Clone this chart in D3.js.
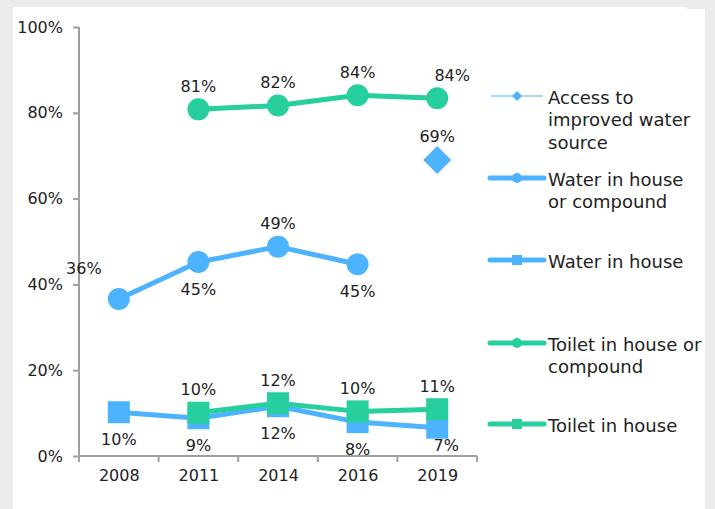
<!DOCTYPE html>
<html>
<head>
<meta charset="utf-8">
<script src="https://cdn.jsdelivr.net/npm/d3@7"></script>
<style>
  html, body { margin: 0; padding: 0; background: #ececec; }
  svg { display: block; }
  text { font-family: "DejaVu Sans", Lato, sans-serif; fill: #222; }
</style>
</head>
<body>
<svg id="chart" width="715" height="509"></svg>
<script>
// ---- data ----
const years = ["2008", "2011", "2014", "2016", "2019"];
const yTicks = [0, 0.2, 0.4, 0.6, 0.8, 1.0];
const seriesNames = [
  "Access to improved water source",
  "Water in house or compound",
  "Water in house",
  "Toilet in house or compound",
  "Toilet in house"
];
const accessImprovedWater   = [null, null, null, null, 0.69];
const waterHouseOrCompound  = [0.366, 0.452, 0.488, 0.447, null];
const waterInHouse          = [0.102, 0.088, 0.116, 0.079, 0.066];
const toiletHouseOrCompound = [null, 0.808, 0.817, 0.841, 0.834];
const toiletInHouse         = [null, 0.101, 0.123, 0.104, 0.109];
const labelsAccess   = [null, null, null, null, "69%"];
const labelsWaterHC  = ["36%", "45%", "49%", "45%", null];
const labelsWaterH   = ["10%", "9%", "12%", "8%", "7%"];
const labelsToiletHC = [null, "81%", "82%", "84%", "84%"];
const labelsToiletH  = [null, "10%", "12%", "10%", "11%"];

// ---- styling / placement (not data) ----
const blue = "#4db3ff", green = "#26cf9d";
const placeAccess   = [null, null, null, null, "t"];
const placeWaterHC  = ["tl", "b", "t", "b", null];
const placeWaterH   = ["b", "b", "b", "b", "br"];
const placeToiletHC = [null, "t", "t", "t", "tr"];
const placeToiletH  = [null, "t", "t", "t", "t"];

const series = [
  { name: seriesNames[0], values: accessImprovedWater, labels: labelsAccess, place: placeAccess, color: blue, marker: "diamond", line: false },
  { name: seriesNames[1], values: waterHouseOrCompound, labels: labelsWaterHC, place: placeWaterHC, color: blue, marker: "circle", line: true },
  { name: seriesNames[2], values: waterInHouse, labels: labelsWaterH, place: placeWaterH, color: blue, marker: "square", line: true },
  { name: seriesNames[3], values: toiletHouseOrCompound, labels: labelsToiletHC, place: placeToiletHC, color: green, marker: "circle", line: true },
  { name: seriesNames[4], values: toiletInHouse, labels: labelsToiletH, place: placeToiletH, color: green, marker: "square", line: true }
];

const svg = d3.select("#chart");
const FONT = "'DejaVu Sans', Lato, sans-serif";

// white panel
svg.append("rect").attr("x", 13).attr("y", 7).attr("width", 674).attr("height", 502).attr("fill", "#fff");
svg.append("rect").attr("x", 687).attr("y", 9).attr("width", 18).attr("height", 500).attr("fill", "#fff");

const x0 = 79, x1 = 477, yTop = 27, yBot = 456;
const x = d3.scalePoint().domain(years).range([x0, x1]).padding(0.5);
const y = d3.scaleLinear().domain([0, 1]).range([yBot, yTop]);

const axisColor = "#a0a0a0";

// y axis
const yAxis = svg.append("g").attr("transform", `translate(${x0},0)`)
  .call(d3.axisLeft(y).tickValues(yTicks).tickFormat(d3.format(".0%")).tickSize(6).tickPadding(10));
yAxis.select(".domain").attr("stroke", axisColor).attr("stroke-width", 2).attr("d", `M0,${yTop}V${yBot}`);
yAxis.selectAll(".tick line").attr("stroke", axisColor).attr("stroke-width", 2);
yAxis.selectAll(".tick text").style("font-size", "16px").style("font-family", FONT).attr("fill", "#222");

// x axis
const xAxis = svg.append("g").attr("transform", `translate(0,${yBot})`)
  .call(d3.axisBottom(x).tickSize(0).tickPadding(14));
xAxis.select(".domain").attr("stroke", axisColor).attr("stroke-width", 2).attr("d", `M${x0},0H${x1}`);
xAxis.selectAll(".tick text").style("font-size", "16px").style("font-family", FONT).attr("fill", "#222");
// category boundary ticks
const step = x.step();
const bounds = d3.range(years.length + 1).map(i => x(years[0]) - step / 2 + i * step);
xAxis.selectAll(".bnd").data(bounds).enter().append("line")
  .attr("x1", d => d).attr("x2", d => d).attr("y1", 0).attr("y2", 6)
  .attr("stroke", axisColor).attr("stroke-width", 2);

const lineGen = d3.line().defined(d => d.v != null).x(d => x(d.year)).y(d => y(d.v));

function drawMarker(g, type, cx, cy, color, big) {
  if (type === "circle") {
    g.append("circle").attr("cx", cx).attr("cy", cy).attr("r", big ? 11 : 5).attr("fill", color);
  } else if (type === "square") {
    const s = big ? 22 : 10;
    g.append("rect").attr("x", cx - s / 2).attr("y", cy - s / 2).attr("width", s).attr("height", s).attr("fill", color);
  } else {
    const r = big ? 14 : 5;
    g.append("path").attr("d", `M${cx},${cy - r}L${cx + r},${cy}L${cx},${cy + r}L${cx - r},${cy}Z`).attr("fill", color);
  }
}

const plot = svg.append("g");
series.forEach(s => {
  const pts = years.map((yr, i) => ({ year: yr, v: s.values[i] }));
  if (s.line) {
    plot.append("path").datum(pts).attr("d", lineGen).attr("fill", "none")
      .attr("stroke", s.color).attr("stroke-width", 5).attr("stroke-linejoin", "round");
  }
  pts.forEach(p => { if (p.v != null) drawMarker(plot, s.marker, x(p.year), y(p.v), s.color, true); });
});

// labels
const labelG = svg.append("g");
series.forEach(s => {
  years.forEach((yr, i) => {
    if (s.labels[i] == null) return;
    const px = x(yr), py = y(s.values[i]);
    const pl = s.place[i];
    let dx = 0, dy = 0;
    if (pl.includes("t")) dy = -23; else dy = 27;
    if (pl.includes("l")) { dx = -35; dy = -30; }
    if (pl === "tr") dx = 15;
    if (pl === "br") { dx = 9; dy = 18; }
    labelG.append("text").attr("x", px + dx).attr("y", py + dy).attr("text-anchor", "middle")
      .attr("dominant-baseline", "central").style("font-size", "16px").text(s.labels[i]);
  });
});

// legend
const legendItems = [
  { lines: ["Access to", "improved water", "source"], sy: 96 },
  { lines: ["Water in house", "or compound"], sy: 178 },
  { lines: ["Water in house"], sy: 260 },
  { lines: ["Toilet in house or", "compound"], sy: 343 },
  { lines: ["Toilet in house"], sy: 424 }
];
const lg = svg.append("g");
series.forEach((s, i) => {
  const it = legendItems[i];
  const g = lg.append("g");
  if (i === 0) {
    g.append("line").attr("x1", 491).attr("x2", 543).attr("y1", it.sy).attr("y2", it.sy).attr("stroke", s.color).attr("stroke-width", 1.2);
  } else {
    g.append("line").attr("x1", 490).attr("x2", 544).attr("y1", it.sy).attr("y2", it.sy).attr("stroke", s.color).attr("stroke-width", 5).attr("stroke-linecap", "round");
  }
  drawMarker(g, s.marker, 517, it.sy, s.color, false);
  it.lines.forEach((t, j) => {
    g.append("text").attr("x", 548).attr("y", it.sy + 1 + j * 22.5).attr("dominant-baseline", "central")
      .style("font-size", "18px").text(t);
  });
});
</script>
</body>
</html>
